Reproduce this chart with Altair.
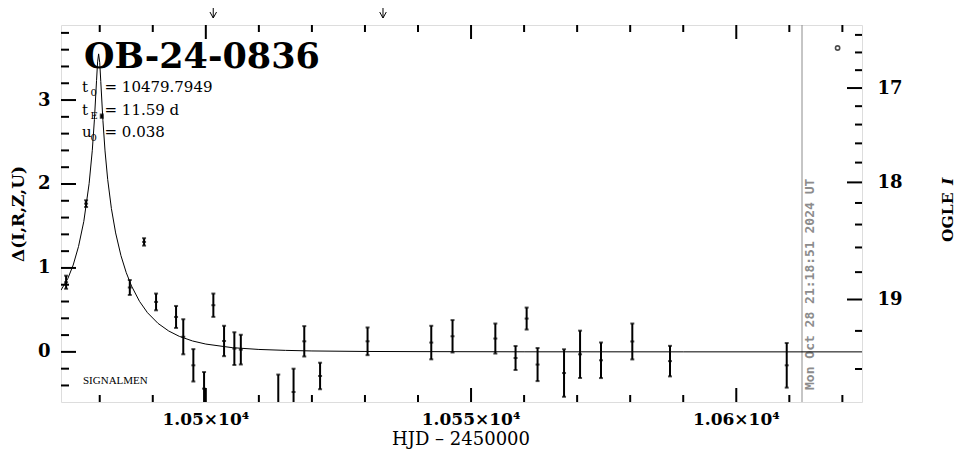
import altair as alt
import pandas as pd

# ---------------- data ----------------
# model light curve (Delta vs HJD-2450000)
model_t = [10472.7, 10474.0, 10475.0, 10476.0, 10477.0, 10478.0, 10478.6, 10479.0, 10479.4, 10479.6,
           10479.79, 10480.0, 10480.2, 10480.6, 10481.0, 10481.5, 10482.2, 10483.0, 10484.0, 10485.0,
           10486.0, 10487.5, 10489.0, 10491.0, 10493.0, 10495.0, 10497.5, 10500.0, 10505.0, 10510.0,
           10515.0, 10520.0, 10530.0, 10540.0, 10560.0, 10590.0, 10623.7]
model_d = [0.735, 0.875, 1.035, 1.255, 1.554, 2.004, 2.402, 2.767, 3.232, 3.455,
           3.550, 3.446, 3.220, 2.757, 2.394, 2.055, 1.707, 1.417, 1.147, 0.944,
           0.784, 0.602, 0.467, 0.339, 0.249, 0.185, 0.130, 0.093, 0.050, 0.029,
           0.018, 0.011, 0.005, 0.003, 0.001, 0.0003, 0.0001]

# observations
obs_t = [10473.66, 10477.43, 10480.39, 10485.67, 10488.36, 10490.62, 10494.39, 10495.75, 10497.65, 10499.67,
         10501.42, 10503.44, 10505.38, 10506.60, 10513.66, 10516.54, 10518.56, 10521.54, 10530.49, 10542.50,
         10546.51, 10554.58, 10558.39, 10560.48, 10562.54, 10567.53, 10570.55, 10574.50, 10580.40, 10587.51,
         10609.51]
obs_d = [0.830, 1.766, 2.808, 0.767, 1.310, 0.595, 0.416, 0.180, -0.160, -0.438,
         0.556, 0.130, 0.039, 0.027, -0.630, -0.478, 0.126, -0.287, 0.126, 0.111,
         0.186, 0.159, -0.073, 0.397, -0.151, -0.252, -0.029, -0.100, 0.124, -0.110,
         -0.160]
obs_err = [0.078, 0.040, 0.020, 0.089, 0.044, 0.100, 0.131, 0.209, 0.193, 0.198,
           0.139, 0.181, 0.195, 0.177, 0.360, 0.278, 0.181, 0.158, 0.165, 0.200,
           0.193, 0.179, 0.143, 0.131, 0.197, 0.283, 0.282, 0.212, 0.214, 0.182,
           0.266]

extra_t = [10619.1]
extra_d = [3.62]

arrow_t = [10501.4, 10533.4]
now_t = [10612.39]
now_text = ["Mon Oct 28 21:18:51 2024 UT"]

event_name = ["OB-24-0836"]
param_sym = ["t", "t", "u"]
param_sub = ["0", "E", "0"]
param_val = ["= 10479.7949", "= 11.59 d", "= 0.038"]
stamp = ["SIGNALMEN"]
x_title = ["HJD  –  2450000"]
y_title = "Δ(I,R,Z,U)"
r_title = ["OGLE", "I"]

x_major = [10500, 10550, 10600]
x_major_labels = ["1.05×10⁴", "1.055×10⁴", "1.06×10⁴"]
x_minor = [10480, 10490, 10510, 10520, 10530, 10540, 10560, 10570, 10580, 10590, 10610, 10620]
y_major = [0, 1, 2, 3]
y_minor = [-0.4, -0.2, 0.2, 0.4, 0.6, 0.8, 1.2, 1.4, 1.6, 1.8, 2.2, 2.4, 2.6, 2.8,
           3.2, 3.4, 3.6, 3.8]
# OGLE I magnitude ticks on the right, placed at their Delta positions
mag_major_labels = ["17", "18", "19"]
mag_major_pos = [3.143, 2.019, 0.624]
mag_minor_pos = [3.776, 3.567, 3.356, 2.927, 2.708, 2.484, 2.255, 1.774, 1.517, 1.244, 0.950,
                 0.250, -0.204]

# ---------------- layout ----------------
W, H = 801, 377
X_DOM = [10472.7, 10623.7]
Y_DOM = [-0.597, 3.894]
xs = alt.Scale(domain=X_DOM, nice=False, zero=False)
ys = alt.Scale(domain=Y_DOM, nice=False, zero=False)
SERIF = "DejaVu Serif"

curve_df = pd.DataFrame({"t": model_t, "d": model_d})
obs_df = pd.DataFrame({"t": obs_t, "d": obs_d, "err": obs_err})
obs_df["lo"] = obs_df["d"] - obs_df["err"]
obs_df["hi"] = obs_df["d"] + obs_df["err"]

mag_expr = ("datum.value > 2.6 ? '%s' : datum.value > 1.3 ? '%s' : '%s'"
            % tuple(mag_major_labels))

# left axis (labels and title; ticks drawn inward below)
axes_layer = alt.Chart(curve_df).mark_point(opacity=0).encode(
    x=alt.X("t:Q", scale=xs, axis=None),
    y=alt.Y("d:Q", scale=ys, axis=alt.Axis(
        values=y_major, format="d", ticks=False, domain=False, grid=False,
        labelFont=SERIF, labelFontSize=18, labelFontWeight="bold", labelColor="black",
        labelPadding=11, labelFlush=False,
        title=y_title, titleFont=SERIF, titleFontSize=17, titleFontWeight="bold",
        titleColor="black", titlePadding=10)),
)

right_axis = alt.Chart(pd.DataFrame({"v": mag_major_pos})).mark_point(opacity=0).encode(
    y=alt.Y("v:Q", scale=ys, axis=alt.Axis(
        orient="right", values=mag_major_pos, labelExpr=mag_expr, ticks=False, domain=False,
        grid=False, labelFont=SERIF, labelFontSize=18, labelFontWeight="bold",
        labelColor="black", labelPadding=15, labelFlush=False, title=None)),
)

# bottom tick labels and axis title
x_labels = alt.Chart(pd.DataFrame({"v": x_major, "lab": x_major_labels})).mark_text(
    font=SERIF, fontSize=17, fontWeight="bold", color="black", align="center",
    baseline="alphabetic").encode(
    x=alt.X("v:Q", scale=xs, axis=None), y=alt.value(H + 23), text="lab:N")
x_title_mark = alt.Chart(pd.DataFrame({"s": x_title})).mark_text(
    font=SERIF, fontSize=18, color="black", align="center", baseline="alphabetic").encode(
    text="s:N", x=alt.value(400), y=alt.value(H + 43))

def xticks(vals, length):
    df = pd.DataFrame({"v": vals})
    bot = alt.Chart(df).mark_rule(color="black", strokeWidth=2).encode(
        x=alt.X("v:Q", scale=xs, axis=None), y=alt.value(H), y2=alt.value(H - length))
    top = alt.Chart(df).mark_rule(color="black", strokeWidth=2).encode(
        x=alt.X("v:Q", scale=xs, axis=None), y=alt.value(0), y2=alt.value(length))
    return [bot, top]

def yticks(vals, length, right=False):
    df = pd.DataFrame({"v": vals})
    if right:
        xa, xb = W, W - length
    else:
        xa, xb = 0, length
    return [alt.Chart(df).mark_rule(color="black", strokeWidth=2).encode(
        y=alt.Y("v:Q", scale=ys, axis=None), x=alt.value(xa), x2=alt.value(xb))]

tick_layers = (xticks(x_major, 14) + xticks(x_minor, 7) + yticks(y_major, 15) +
               yticks(y_minor, 8) + yticks(mag_major_pos, 15, True) +
               yticks(mag_minor_pos, 7, True))

now_rule = alt.Chart(pd.DataFrame({"t": now_t})).mark_rule(color="#8c8c8c", strokeWidth=1).encode(
    x=alt.X("t:Q", scale=xs, axis=None), y=alt.value(0), y2=alt.value(H))
now_label = alt.Chart(pd.DataFrame({"s": now_text})).mark_text(
    font="DejaVu Sans Mono", fontWeight="bold", fontSize=13, color="#8c8c8c",
    angle=270, align="left", baseline="middle").encode(
    text="s:N", x=alt.value(749), y=alt.value(365))

curve = alt.Chart(curve_df).mark_line(color="black", strokeWidth=1, clip=True).encode(
    x=alt.X("t:Q", scale=xs, axis=None), y=alt.Y("d:Q", scale=ys, axis=None))

bars = alt.Chart(obs_df).mark_rule(color="black", strokeWidth=2, clip=True).encode(
    x=alt.X("t:Q", scale=xs, axis=None), y=alt.Y("lo:Q", scale=ys, axis=None), y2="hi:Q")
caps = alt.Chart(obs_df).transform_fold(["lo", "hi"], as_=["k", "v"]).mark_tick(
    color="black", orient="horizontal", size=4, thickness=2, clip=True).encode(
    x=alt.X("t:Q", scale=xs, axis=None), y=alt.Y("v:Q", scale=ys, axis=None))
centers = alt.Chart(obs_df).mark_tick(
    color="black", orient="horizontal", size=4, thickness=2, clip=True).encode(
    x=alt.X("t:Q", scale=xs, axis=None), y=alt.Y("d:Q", scale=ys, axis=None))

extra = alt.Chart(pd.DataFrame({"t": extra_t, "d": extra_d})).mark_point(
    shape="circle", size=18, filled=False, color="black", strokeWidth=1.6).encode(
    x=alt.X("t:Q", scale=xs, axis=None), y=alt.Y("d:Q", scale=ys, axis=None))

arrows = alt.Chart(pd.DataFrame({"t": arrow_t})).mark_point(
    shape="M0,-6L0,0M-1.1,-2L0,0L1.1,-2", size=36, filled=False, color="black",
    strokeWidth=1, opacity=1).encode(
    x=alt.X("t:Q", scale=xs, axis=None), y=alt.value(-7))

def txt(s, x, y, size, weight="normal", font=SERIF, style="normal", angle=0, align="left",
        baseline="alphabetic"):
    return alt.Chart(pd.DataFrame({"s": [s]})).mark_text(
        font=font, fontSize=size, fontWeight=weight, fontStyle=style, color="black",
        align=align, baseline=baseline, angle=angle).encode(
        text="s:N", x=alt.value(x), y=alt.value(y))

texts = [txt(event_name[0], 23, 43, 35, "bold")]
for i in range(3):
    by = 67 + 22.5 * i
    texts.append(txt(param_sym[i], 21, by, 15))
    texts.append(txt(param_sub[i], 29.5, by + 4, 10))
    texts.append(txt(param_val[i], 43.5, by, 15))
texts.append(txt(stamp[0], 22, 359, 11, font="Liberation Serif"))
# right axis title: OGLE I (I in italic)
texts.append(txt(r_title[0], 887, 217, 15.5, "bold", angle=270, baseline="middle"))
texts.append(txt(r_title[1], 887, 160, 15.5, "bold", style="italic", angle=270,
                 baseline="middle"))

chart = alt.layer(
    axes_layer, right_axis, x_labels, x_title_mark, *tick_layers, now_rule, now_label, curve,
    bars, caps, centers, extra, arrows, *texts
).resolve_scale(x="shared", y="shared").resolve_axis(y="independent").properties(
    width=W, height=H,
    autosize=alt.AutoSizeParams(type="none"),
    padding={"left": 53, "top": 17, "right": 95, "bottom": 47},
).configure_view(stroke="black", strokeWidth=2).configure(background="white")

chart.save("out.html", embed_options={"renderer": "svg", "actions": False})
